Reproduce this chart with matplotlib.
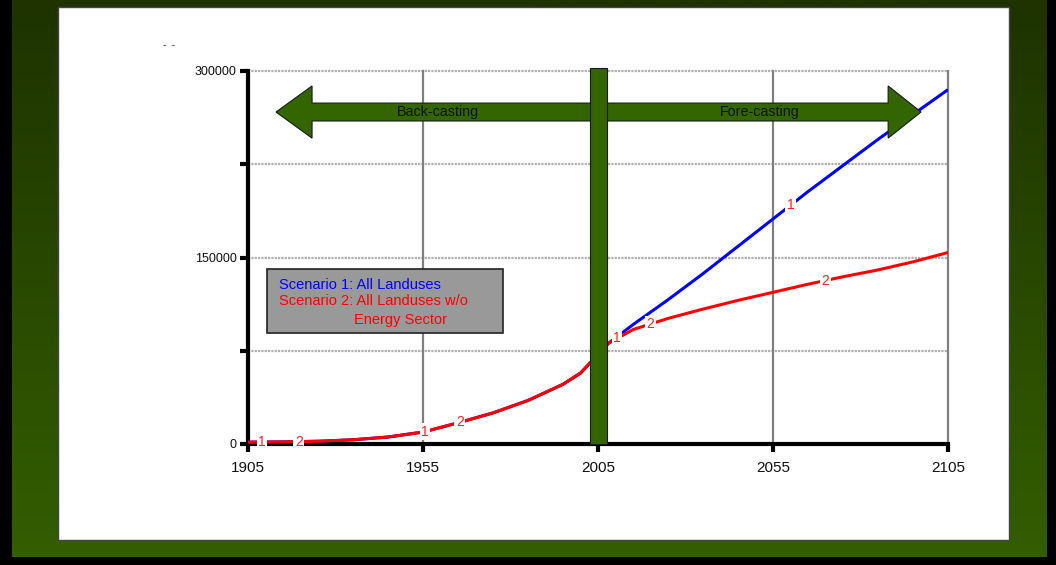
import numpy as np
import matplotlib
matplotlib.use("Agg")
import matplotlib.pyplot as plt
import matplotlib.patches as mpatches
from matplotlib.ticker import FixedLocator, NullFormatter

plt.rcParams['font.family'] = ['Liberation Sans', 'DejaVu Sans']

# shared history (both scenarios identical up to ~2008)
hist_years = [1905, 1915, 1925, 1935, 1945, 1955, 1965, 1975, 1985, 1995, 2000, 2005, 2008]
hist_vals = [1500, 1700, 2200, 3400, 5600, 9600, 17000, 25000, 35000, 48000, 57000, 72000, 81000]

# projections
proj_years = [2008, 2015, 2025, 2035, 2045, 2055, 2065, 2075, 2085, 2095, 2105]
scen1 = [81000, 96000, 116000, 137000, 159000, 181000, 203000, 224000, 245000, 265000, 285000]
scen2 = [81000, 92000, 101000, 108500, 115500, 122000, 128500, 134500, 140000, 146500, 154000]

x_ticks = [1905, 1955, 2005, 2055, 2105]
y_ticks = [0, 150000, 300000]
y_minor = [75000, 225000]

# line-number labels: (series, year, text)
num_labels = [(2, 1909, "1"), (2, 1919.5, "2"), (2, 1955.5, "1"), (2, 1965.5, "2"),
              (2, 2010.5, "1"), (2, 2020, "2"), (1, 2060, "1"), (2, 2070, "2")]

legend_lines = ["Scenario 1: All Landuses", "Scenario 2: All Landuses w/o", "Energy Sector"]

fig = plt.figure(figsize=(10.56, 5.65), dpi=100)

# ---- background frame (pixel coordinates) ----
bg = fig.add_axes([0, 0, 1, 1])
bg.axis('off')
bg.add_patch(mpatches.Rectangle((0, 0), 1056, 565, color='black', zorder=0))
grad = np.linspace(0, 1, 256).reshape(-1, 1)
top = np.array([0x1e, 0x33, 0x00]) / 255
bot = np.array([0x33, 0x5e, 0x00]) / 255
img = top[None, None, :] * (1 - grad[:, :, None]) + bot[None, None, :] * grad[:, :, None]
bg.imshow(img, extent=[12, 1047, 557, 0], aspect='auto', zorder=1)
bg.add_patch(mpatches.Rectangle((58, 7), 951, 533, facecolor='white', edgecolor='#444444',
                                lw=1, zorder=2))
bg.text(163, 45, "-  -", fontsize=7, color='#222222', ha='left', va='center', zorder=3)
bg.set_xlim(0, 1056)
bg.set_ylim(565, 0)

# ---- main chart ----
ax = fig.add_axes([248 / 1056, 121 / 565, 700 / 1056, 373 / 565])
ax.set_facecolor('none')
ax.set_xlim(1905, 2105)
ax.set_ylim(0, 300000)

for s in ['top', 'right']:
    ax.spines[s].set_visible(False)
for s in ['left', 'bottom']:
    ax.spines[s].set_linewidth(3)
    ax.spines[s].set_color('black')
    ax.spines[s].set_zorder(2.6)

ax.xaxis.set_major_locator(FixedLocator(x_ticks))
ax.set_xticklabels([str(t) for t in x_ticks])
ax.yaxis.set_major_locator(FixedLocator(y_ticks))
ax.yaxis.set_minor_locator(FixedLocator(y_minor))
ax.yaxis.set_minor_formatter(NullFormatter())
ax.set_yticklabels([str(t) for t in y_ticks])
ax.tick_params(axis='x', which='major', length=6, width=3, direction='out', labelsize=11,
               labelcolor='#111111', pad=6)
ax.tick_params(axis='y', which='both', length=6, width=3, direction='out', labelsize=9,
               labelcolor='#111111', pad=2)

# gridlines
for yv in y_minor + [150000, 300000]:
    ax.axhline(yv, color='#b0b0b0', lw=1.6, ls=(0, (1, 0.5)), zorder=1, clip_on=False)
for xv in x_ticks[1:]:
    ax.axvline(xv, color='#808080', lw=1.6, zorder=1, clip_on=False)

# series
yrs1 = hist_years + proj_years[1:]
v1 = hist_vals + scen1[1:]
v2 = hist_vals + scen2[1:]
ax.plot(yrs1, v1, color='#0000ff', lw=2.2, zorder=3, solid_capstyle='butt')
ax.plot(yrs1, v2, color='#ff0000', lw=2.2, zorder=3.5, solid_capstyle='butt')

for series, yr, txt in num_labels:
    vals = v1 if series == 1 else v2
    yv = np.interp(yr, yrs1, vals)
    ax.text(yr, yv, txt, color='#ff2020', fontsize=10, ha='center', va='center', zorder=4,
            bbox=dict(boxstyle='square,pad=0.1', facecolor='white', edgecolor='none'))

# back-casting / fore-casting double arrow
arrow_y, body_h, head_h = 267000, 7200, 21000
x_l_tip, x_l_base, x_r_base, x_r_tip = 1913.0, 1923.3, 2087.9, 2097.3
arrow_pts = [(x_l_tip, arrow_y), (x_l_base, arrow_y + head_h), (x_l_base, arrow_y + body_h),
             (x_r_base, arrow_y + body_h), (x_r_base, arrow_y + head_h), (x_r_tip, arrow_y),
             (x_r_base, arrow_y - head_h), (x_r_base, arrow_y - body_h),
             (x_l_base, arrow_y - body_h), (x_l_base, arrow_y - head_h)]
ax.add_patch(mpatches.Polygon(arrow_pts, closed=True, facecolor='#336600', edgecolor='#1a1a1a',
                              lw=0.8, zorder=5, clip_on=False))
ax.text(1959.3, arrow_y, "Back-casting", fontsize=10.3, color='#111111', ha='center', va='center', zorder=5.5)
ax.text(2051.3, arrow_y, "Fore-casting", fontsize=10.3, color='#111111', ha='center', va='center', zorder=5.5)

# vertical "now" bar
ax.add_patch(mpatches.Rectangle((2002.7, 0), 4.9, 302500, facecolor='#336600', edgecolor='#1a1a1a',
                                lw=0.8, zorder=5.2, clip_on=False))

# legend box
ax.add_patch(mpatches.Rectangle((0.027, 0.298), 0.337, 0.171, transform=ax.transAxes,
                                facecolor='#999999', edgecolor='#222222', lw=1.2, zorder=5))
ax.text(0.044, 0.426, legend_lines[0], transform=ax.transAxes, color='#0000ff', fontsize=10.5,
        va='center', zorder=6)
ax.text(0.044, 0.383, legend_lines[1], transform=ax.transAxes, color='#ff0000', fontsize=10.5,
        va='center', zorder=6)
ax.text(0.151, 0.332, legend_lines[2], transform=ax.transAxes, color='#ff0000', fontsize=10.5,
        va='center', zorder=6)

fig.savefig("out.png", dpi=100)
